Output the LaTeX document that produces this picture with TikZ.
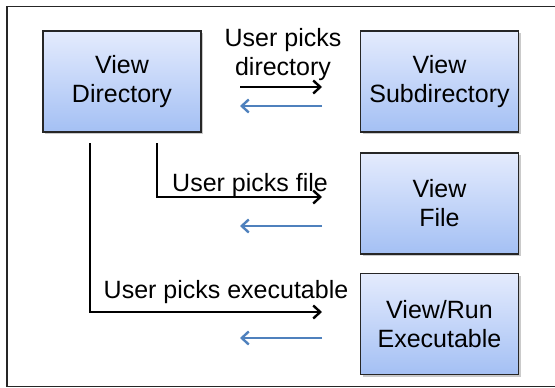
\documentclass[tikz,border=0pt]{standalone}
\usepackage{fontspec}
\setmainfont{Liberation Sans}
\usetikzlibrary{arrows.meta,shadows}
\definecolor{accblue}{RGB}{79,129,189}
\definecolor{boxtop}{RGB}{228,235,253}
\definecolor{boxbot}{RGB}{164,192,244}
\tikzset{
  statebox/.style={draw=black!85, line width=1.8pt, top color=boxtop, bottom color=boxbot,
    minimum width=158pt, minimum height=101pt, align=center, inner sep=0pt,
    font=\fontsize{25}{29}\selectfont,
    drop shadow={shadow xshift=2pt, shadow yshift=-2pt, opacity=0.35, fill=black!60}},
  fwd/.style={draw=black, line width=2.6pt, -{Straight Barb[length=7pt,width=13pt,line width=2.4pt]}},
  back/.style={draw=accblue, line width=2.6pt, -{Straight Barb[length=7pt,width=13pt,line width=2.4pt]}},
  lbl/.style={font=\fontsize{25}{29}\selectfont, align=center, inner sep=0pt},
}
\begin{document}
\begin{tikzpicture}[x=1pt,y=-1pt]
\useasboundingbox (0,0) rectangle (555,388);
\draw[line width=1.5pt, draw=black!85] (7,6.5) rectangle (557,386.5);

\node[statebox] (dir) at (122,81.5) {View\\Directory};
\node[statebox] (sub) at (439.5,81.5) {View\\Subdirectory};
\node[statebox] (file) at (439.5,203.5) {View\\File};
\node[statebox] (exe) at (439.5,324) {View/Run\\Executable};

% top pair
\coordinate (a1s) at (240,87);
\coordinate (a1e) at (322,87);
\draw[fwd] (a1s) -- (a1e);
\coordinate (b1s) at (322,106);
\coordinate (b1e) at (240,106);
\draw[back] (b1s) -- (b1e);
\node[lbl] (l1) at (283,55) {User picks\\directory};

% file pair
\coordinate (v2s) at (157,143);
\coordinate (v2c) at (157,197);
\coordinate (a2e) at (322,197);
\draw[fwd] (v2s) -- (v2c) -- (a2e);
\coordinate (b2s) at (322,226);
\coordinate (b2e) at (240,226);
\draw[back] (b2s) -- (b2e);
\node[lbl, anchor=base] (l2) at (250,191) {User picks file};

% executable pair
\coordinate (v3s) at (90,143);
\coordinate (v3c) at (90,312);
\coordinate (a3e) at (322,312);
\draw[fwd] (v3s) -- (v3c) -- (a3e);
\coordinate (b3s) at (322,338);
\coordinate (b3e) at (240,338);
\draw[back] (b3s) -- (b3e);
\node[lbl, anchor=base] (l3) at (226,298) {User picks executable};
\end{tikzpicture}
\end{document}
